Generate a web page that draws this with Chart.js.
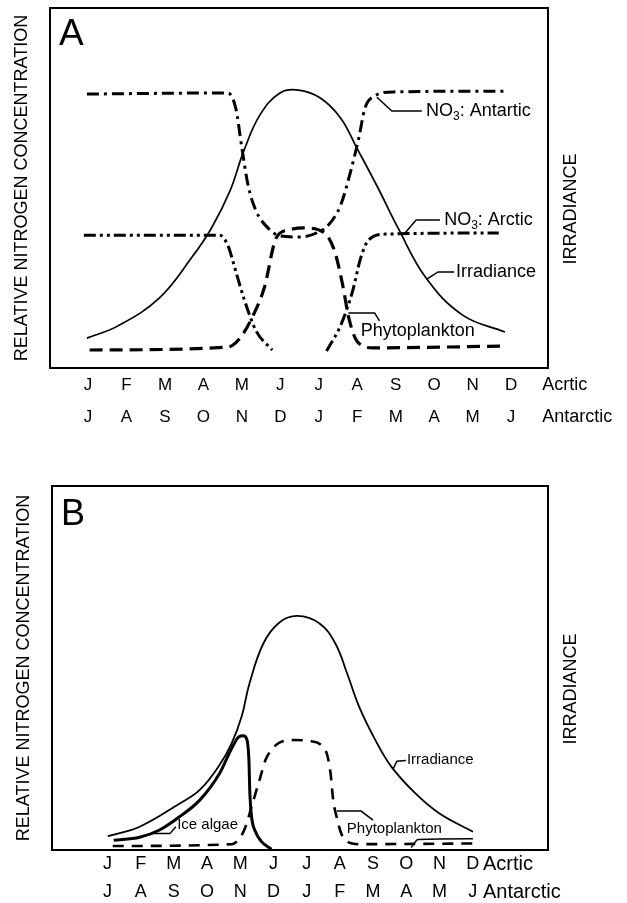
<!DOCTYPE html>
<html>
<head>
<meta charset="utf-8">
<script src="https://cdn.jsdelivr.net/npm/chart.js@4.4.1/dist/chart.umd.min.js"></script>
<style>
  html, body { margin: 0; padding: 0; background: #fff; }
  #wrap { position: relative; width: 627px; height: 903px; }
  canvas { position: absolute; left: 0; }
  #chartA { top: 0; }
  #chartB { top: 440px; }
</style>
</head>
<body>
<div id="wrap">
  <canvas id="chartA" width="627" height="440"></canvas>
  <canvas id="chartB" width="627" height="463"></canvas>
</div>
<script>
// mois (axe x = index du mois, 0 = J)
const arcticMonths = ['J', 'F', 'M', 'A', 'M', 'J', 'J', 'A', 'S', 'O', 'N', 'D'];
const antarcticMonths = ['J', 'A', 'S', 'O', 'N', 'D', 'J', 'F', 'M', 'A', 'M', 'J'];
const rowNames = ['Acrtic', 'Antarctic'];

// Panneau A
const irrA_x = [-0.03, 0.78, 1.85, 2.69, 3.21, 3.69, 4.05, 4.47, 4.99, 5.47, 6.04, 6.57, 6.99, 7.54, 8.06, 8.79, 9.74, 10.84];
const irrA_y = [8.3, 11.7, 19.4, 30.6, 38.9, 49.2, 60.3, 70.3, 76.4, 77.2, 75.0, 69.4, 61.1, 50.0, 38.9, 25.0, 14.7, 10.0];

const no3AntA_x = [-0.03, 3.63, 3.84, 4.00, 4.16, 4.37, 4.68, 4.99, 5.52, 5.94, 6.25, 6.57, 6.83, 7.04, 7.20, 7.46, 7.95, 10.84];
const no3AntA_y = [76.1, 76.4, 72.2, 61.1, 50.8, 43.6, 38.9, 36.7, 36.4, 37.5, 39.7, 45.3, 54.7, 63.9, 72.2, 75.6, 76.7, 76.9];

const no3ArcA_x = [-0.11, 3.42, 3.63, 3.84, 4.05, 4.37, 4.79, 5.5, 6.20, 6.57, 6.88, 7.09, 7.30, 7.75, 10.68];
const no3ArcA_y = [36.9, 36.9, 34.2, 26.9, 19.4, 10.3, 5.0, null, 4.7, 11.9, 21.4, 30.6, 35.6, 37.2, 37.5];

const phytoA_x = [0.04, 3.63, 3.95, 4.26, 4.58, 4.89, 5.20, 5.62, 6.15, 6.41, 6.62, 6.78, 6.99, 7.40, 10.84];
const phytoA_y = [5.0, 5.8, 8.3, 13.9, 22.2, 36.1, 38.3, 38.9, 37.5, 32.5, 23.1, 13.9, 7.5, 5.6, 6.1];

// Panneau B
const irrB_x = [0.01, 0.97, 2.18, 2.78, 3.38, 3.74, 4.04, 4.28, 4.70, 5.18, 5.72, 6.38, 6.86, 7.22, 7.58, 8.07, 8.55, 9.27, 9.99, 11.01];
const irrB_y = [3.8, 6.4, 12.8, 16.5, 23.4, 29.3, 36.6, 45.8, 56.8, 62.5, 64.3, 62.3, 56.8, 48.5, 39.4, 30.2, 22.9, 15.6, 10.1, 5.0];

const iceB_x = [0.19, 0.97, 1.57, 2.18, 2.78, 3.38, 3.74, 3.96, 4.10, 4.20, 4.26, 4.29, 4.34, 4.46, 4.64, 4.94];
const iceB_y = [2.7, 3.5, 5.5, 9.2, 13.7, 21.1, 27.9, 31.1, 31.4, 30.4, 25.0, 15.6, 9.2, 5.0, 2.3, 0.2];

const iceAutumnB_x = [9.15, 9.36, 11.01];
const iceAutumnB_y = [0.7, 2.9, 3.1];

const phytoB_x = [0.16, 3.74, 3.98, 4.16, 4.34, 4.58, 4.76, 4.94, 5.18, 5.66, 6.14, 6.44, 6.62, 6.72, 6.80, 6.90, 7.04, 7.22, 7.58, 11.01];
const phytoB_y = [1.1, 1.6, 3.2, 6.4, 11.9, 19.2, 24.7, 27.5, 29.5, 30.2, 29.9, 28.8, 26.1, 21.1, 13.7, 9.2, 4.6, 2.3, 1.6, 1.8];

const FONT = '"Liberation Sans", Arial, Helvetica, sans-serif';
Chart.defaults.font.family = FONT;
Chart.defaults.color = '#000';

// étiquettes avec traits de rappel (coordonnées en unités du graphique)
const notesA = [
  { parts: [['NO'], ['3', 1], [': Antartic']], at: [8.79, 71.4], path: [[7.51, 75.2], [7.90, 71.4], [8.68, 71.4]] },
  { parts: [['NO'], ['3', 1], [': Arctic']], at: [9.26, 41.1], path: [[8.21, 37.1], [8.53, 41.1], [9.15, 41.1]] },
  { parts: [['Irradiance']], at: [9.57, 26.7], path: [[8.80, 24.6], [9.10, 26.7], [9.52, 26.7]] },
  { parts: [['Phytoplankton']], at: [7.09, 10.3], path: [[6.77, 15.3], [7.45, 15.3], [7.58, 13.1]] }
];
const notesB = [
  { parts: [['Irradiance']], at: [9.02, 24.8], path: [[8.60, 22.2], [8.72, 24.4], [8.99, 24.6]] },
  { parts: [['Ice algae']], at: [2.10, 6.9], path: [[1.34, 4.5], [1.88, 4.5], [2.06, 6.4]] },
  { parts: [['Phytoplankton']], at: [7.21, 5.8], path: [[6.91, 10.7], [7.64, 10.7], [8.00, 8.2]] }
];

function pts(xs, ys) {
  return xs.map((v, i) => ({ x: v, y: ys[i] }));
}

function drawParts(ctx, parts, x, y, size) {
  parts.forEach(([t, sub]) => {
    const fs = sub ? Math.round(size * 0.65) : size;
    ctx.font = fs + 'px ' + FONT;
    ctx.fillText(t, x, sub ? y + size * 0.3 : y);
    x += ctx.measureText(t).width;
  });
}

const decorPlugin = {
  id: 'decor',
  afterDatasetsDraw(chart, args, o) {
    const { ctx, chartArea: a, scales: { x, y } } = chart;
    ctx.save();
    ctx.strokeStyle = '#000';
    ctx.fillStyle = '#000';

    // cadre
    ctx.lineWidth = 2;
    ctx.strokeRect(a.left, a.top, a.right - a.left, a.bottom - a.top);

    // traits de rappel + textes
    ctx.lineWidth = 1.5;
    ctx.textBaseline = 'middle';
    ctx.textAlign = 'left';
    o.notes.forEach(n => {
      ctx.beginPath();
      n.path.forEach(([vx, vy], i) => {
        const px = x.getPixelForValue(vx), py = y.getPixelForValue(vy);
        if (i) ctx.lineTo(px, py); else ctx.moveTo(px, py);
      });
      ctx.stroke();
      drawParts(ctx, n.parts, x.getPixelForValue(n.at[0]), y.getPixelForValue(n.at[1]), o.noteSize);
    });

    // lettre du panneau
    ctx.textBaseline = 'alphabetic';
    ctx.font = o.letterSize + 'px ' + FONT;
    ctx.fillText(o.letter, a.left + 9, a.top + o.letterDrop);

    // noms des lignes de mois
    ctx.textBaseline = 'middle';
    ctx.font = o.rowSize + 'px ' + FONT;
    rowNames.forEach((t, i) => {
      ctx.fillText(t, x.getPixelForValue(o.rowNameX), x.top + o.tickPad + o.lineH * (i + 0.5));
    });

    // titre de droite
    ctx.font = '18px ' + FONT;
    ctx.textAlign = 'center';
    ctx.translate(o.rightTitleX, (a.top + a.bottom) / 2 + 21);
    ctx.rotate(-Math.PI / 2);
    ctx.fillText('IRRADIANCE', 0, 0);
    ctx.restore();
  }
};

function buildChart(id, p) {
  return new Chart(document.getElementById(id), {
    type: 'line',
    data: {
      datasets: p.series.map(s => ({
        label: s.label,
        data: pts(s.xs, s.ys),
        borderColor: '#000',
        borderWidth: s.width,
        borderDash: s.dash || [],
        borderCapStyle: 'butt',
        pointRadius: 0,
        fill: false,
        spanGaps: false,
        tension: s.smooth ? 0.4 : 0,
        cubicInterpolationMode: s.smooth ? 'default' : 'monotone'
      }))
    },
    options: {
      responsive: false,
      animation: false,
      devicePixelRatio: 1,
      layout: { padding: { left: 0, right: 79, top: p.top, bottom: 0 } },
      plugins: {
        legend: { display: false },
        tooltip: { enabled: false },
        decor: p.decor
      },
      scales: {
        x: {
          type: 'linear',
          min: p.xMin,
          max: p.xMax,
          afterBuildTicks: s => { s.ticks = arcticMonths.map((_, i) => ({ value: i })); },
          afterFit: s => { s.height = p.axisH; },
          grid: { display: false, drawTicks: false },
          border: { display: false },
          ticks: {
            autoSkip: false,
            maxRotation: 0,
            minRotation: 0,
            padding: p.decor.tickPad,
            color: '#000',
            font: { size: p.monthSize, lineHeight: p.decor.lineH + 'px' },
            callback: (v, i) => [arcticMonths[i], antarcticMonths[i]]
          }
        },
        y: {
          min: 0,
          max: 100,
          afterFit: s => { s.width = p.left; },
          grid: { display: false },
          border: { display: false },
          ticks: { display: false },
          title: {
            display: true,
            text: 'RELATIVE NITROGEN CONCENTRATION',
            color: '#000',
            font: { size: 18 },
            padding: { top: p.titlePad, bottom: 0 }
          }
        }
      }
    },
    plugins: [decorPlugin]
  });
}

buildChart('chartA', {
  top: 8, left: 50, axisH: 72, xMin: -0.99, xMax: 11.96, monthSize: 17, titlePad: 11,
  series: [
    { label: 'Irradiance', xs: irrA_x, ys: irrA_y, width: 1.7, smooth: true },
    { label: 'NO3: Antartic', xs: no3AntA_x, ys: no3AntA_y, width: 3, dash: [12, 5, 3, 5] },
    { label: 'NO3: Arctic', xs: no3ArcA_x, ys: no3ArcA_y, width: 3, dash: [12, 4, 3, 4, 3, 4] },
    { label: 'Phytoplankton', xs: phytoA_x, ys: phytoA_y, width: 3.2, dash: [13, 7] }
  ],
  decor: { notes: notesA, noteSize: 18, letter: 'A', letterSize: 37, letterDrop: 37,
           rowNameX: 11.81, rowSize: 18, tickPad: 1, lineH: 32, rightTitleX: 571 }
});

buildChart('chartB', {
  top: 46, left: 52, axisH: 53, xMin: -1.67, xMax: 13.27, monthSize: 18, titlePad: 13,
  series: [
    { label: 'Irradiance', xs: irrB_x, ys: irrB_y, width: 1.8, smooth: true },
    { label: 'Ice algae', xs: iceB_x, ys: iceB_y, width: 3 },
    { label: 'Ice algae (autumn)', xs: iceAutumnB_x, ys: iceAutumnB_y, width: 1.5 },
    { label: 'Phytoplankton', xs: phytoB_x, ys: phytoB_y, width: 2.6, dash: [11, 8] }
  ],
  decor: { notes: notesB, noteSize: 15, letter: 'B', letterSize: 36, letterDrop: 39,
           rowNameX: 11.31, rowSize: 20, tickPad: 0, lineH: 28, rightTitleX: 571 }
});
</script>
</body>
</html>
